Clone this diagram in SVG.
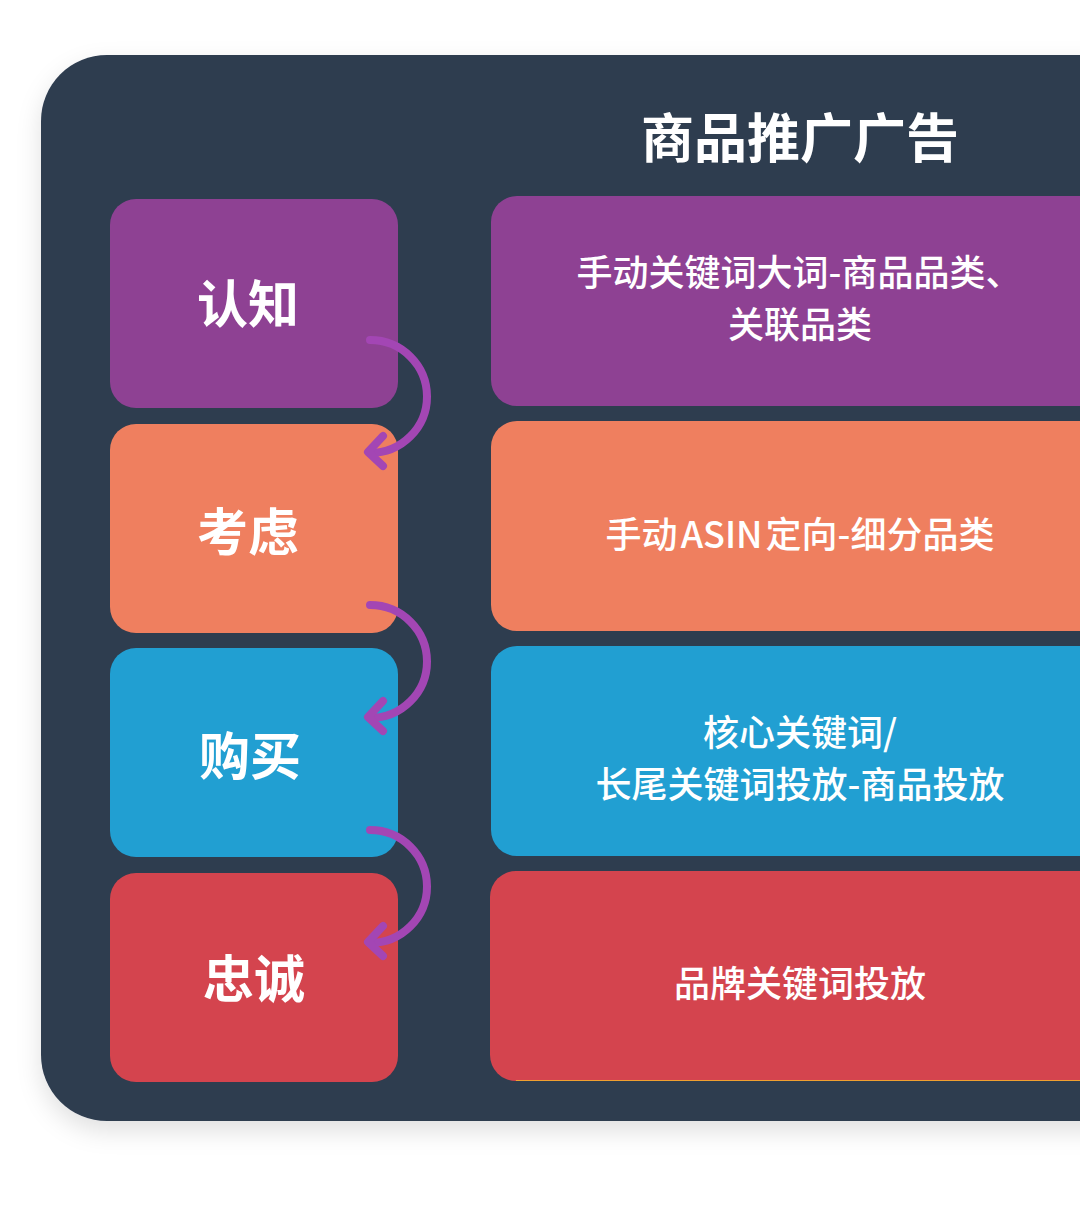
<svg xmlns="http://www.w3.org/2000/svg" width="1080" height="1219" viewBox="0 0 1080 1219">
<defs>
<filter id="sh" x="-10%" y="-10%" width="130%" height="130%">
<feDropShadow dx="0" dy="10" stdDeviation="12" flood-color="#000" flood-opacity="0.12"/>
</filter>
<style>
.lbl{font-family:"Noto Sans CJK SC","Noto Sans",sans-serif;font-weight:700;font-size:51px;fill:#fff;text-anchor:middle}
.txt{font-family:"Noto Sans CJK SC","Noto Sans",sans-serif;font-weight:500;font-size:36px;fill:#fff;text-anchor:middle}
.title{font-family:"Noto Sans CJK SC","Noto Sans",sans-serif;font-weight:700;font-size:53px;fill:#fff;text-anchor:middle}
.arc{fill:none;stroke:#a346b4;stroke-width:8;stroke-linecap:round;stroke-linejoin:round}
</style>
</defs>
<rect width="1080" height="1219" fill="#fff"/>
<rect id="panel" x="41" y="55" width="1120" height="1066" rx="66" fill="#2e3d50" filter="url(#sh)"/>
<text class="title" x="800" y="158">商品推广广告</text>
<g id="n-awareness"><rect x="110" y="199" width="288" height="209" rx="26" fill="#8e4193"/><text class="lbl" x="248" y="323">认知</text></g>
<g id="n-consider"><rect x="110" y="424" width="288" height="209" rx="26" fill="#ef7f5f"/><text class="lbl" x="248" y="551">考虑</text></g>
<g id="n-purchase"><rect x="110" y="648" width="288" height="209" rx="26" fill="#219fd2"/><text class="lbl" x="250" y="775">购买</text></g>
<g id="n-loyalty"><rect x="110" y="873" width="288" height="209" rx="26" fill="#d4444e"/><text class="lbl" x="254" y="998">忠诚</text></g>
<g id="r-awareness"><rect x="491" y="196" width="640" height="210" rx="26" fill="#8e4193"/><text class="txt" x="799" y="286">手动关键词大词-商品品类、</text><text class="txt" x="800" y="338">关联品类</text></g>
<g id="r-consider"><rect x="491" y="421" width="640" height="210" rx="26" fill="#ef7f5f"/><text class="txt" x="800" y="548" word-spacing="-5">手动 ASIN 定向-细分品类</text></g>
<g id="r-purchase"><rect x="491" y="646" width="640" height="210" rx="26" fill="#219fd2"/><text class="txt" x="800" y="746">核心关键词/</text><text class="txt" x="800" y="798">长尾关键词投放-商品投放</text></g>
<g id="r-loyalty"><rect x="490" y="871" width="640" height="210" rx="26" fill="#d4444e"/><line x1="516" y1="1080.5" x2="1080" y2="1080.5" stroke="#f0a030" stroke-width="1"/><text class="txt" x="800" y="997">品牌关键词投放</text></g>
<g id="connectors">
<path class="arc" d="M370 340 A57 56.5 0 0 1 370 453"/>
<path class="arc" d="M383 436 L368 452 L383 466"/>
<path class="arc" d="M370 605 A57 56.5 0 0 1 370 718"/>
<path class="arc" d="M383 701 L368 717 L383 731"/>
<path class="arc" d="M370 830 A57 56.5 0 0 1 370 943"/>
<path class="arc" d="M383 926 L368 942 L383 956"/>
</g>
</svg>
